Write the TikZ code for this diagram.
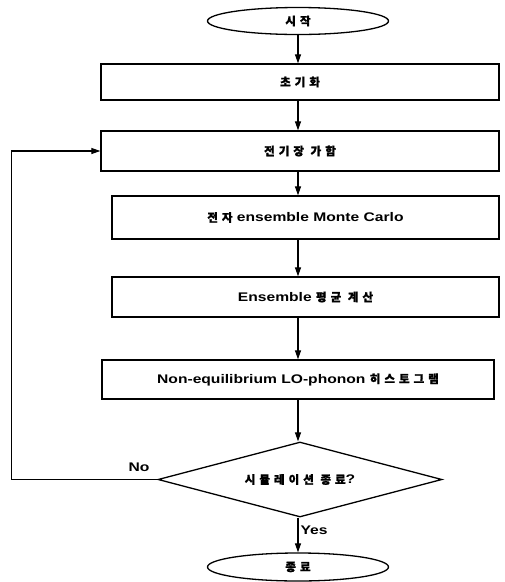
\documentclass[tikz,border=0pt]{standalone}
\usepackage{fontspec}
\setmainfont{Liberation Sans}[FakeStretch=1.25]
\newfontfamily\kr{Noto Sans CJK KR}[LetterSpace=35, FakeBold=1.2]
\newcommand{\krtext}[1]{{\kr\fontsize{11.5}{13}\selectfont #1}}
\usetikzlibrary{shapes.geometric,arrows.meta}

\begin{document}
\begin{tikzpicture}[x=1pt, y=-1pt, font=\bfseries\fontsize{12.5}{15}\selectfont,
  term/.style={draw, ellipse, line width=1.3pt, minimum width=181pt, minimum height=27pt, inner sep=0pt},
  box/.style={draw, rectangle, line width=1.3pt, inner sep=0pt},
  test/.style={draw, diamond, line width=1.3pt, minimum width=284pt, minimum height=75pt, inner sep=0pt},
  flow/.style={line width=1.1pt, -{Triangle[length=9pt,width=6pt]}}]
  \useasboundingbox (0,0) rectangle (505,582);

  % Start and end
  \node[term] (start) at (298, 21) {\krtext{시작}};
  \node[term, minimum height=28pt] (stop) at (298, 567) {\krtext{종료}};

  % Process boxes
  \node[box, minimum width=398pt, minimum height=36pt] (init)  at (300, 82)    {\krtext{초기화}};
  \node[box, minimum width=398pt, minimum height=40pt] (field) at (300, 151)   {\krtext{전기장 가함}};
  \node[box, minimum width=387pt, minimum height=43pt] (mc)    at (305.5, 217.5) {\krtext{전자} ensemble Monte Carlo};
  \node[box, minimum width=387pt, minimum height=40pt] (avg)   at (305.5, 297) {Ensemble \krtext{평균 계산}};
  \node[box, minimum width=392pt, minimum height=39pt] (hist)  at (298, 379.5) {Non-equilibrium LO-phonon \krtext{히스토그램}};

  % Decision (text kept out of the size so the diamond keeps its corners)
  \node[test] (check) at (300, 479.5) {\makebox[0pt]{\krtext{시뮬레이션 종료}?}};

  % Main flow
  \draw[flow] (start.south) -- (init.north -| start);
  \draw[flow] (init.south -| start) -- (field.north -| start);
  \draw[flow] (field.south -| start) -- (mc.north -| start);
  \draw[flow] (mc.south -| start) -- (avg.north -| start);
  \draw[flow] (avg.south -| start) -- (hist.north -| start);
  \draw[flow] (hist.south -| start) -- (check.north -| start);
  \draw[flow] (check.south -| start) -- (stop.north) node[pos=0.35, right, inner sep=2pt] {Yes};

  % Loop back
  \draw[flow] (check.west) -- ++(-146, 0) |- (field.west);
  \node (no) at (139, 467) {No};
\end{tikzpicture}
\end{document}
